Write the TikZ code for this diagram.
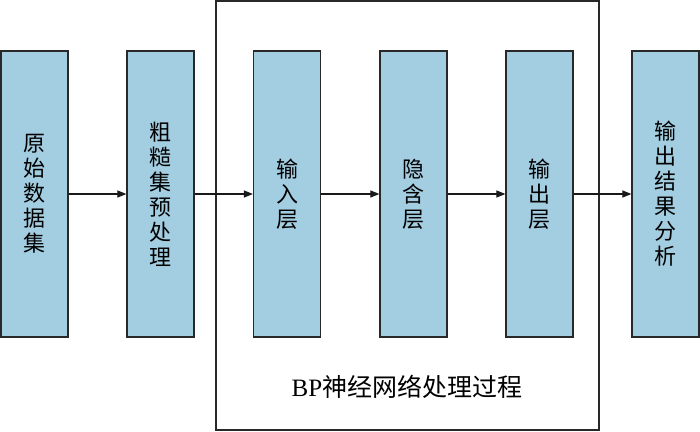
\documentclass[tikz,border=0pt]{standalone}
\usepackage{fontspec}
\newfontfamily\cjk{Noto Sans CJK SC}
\newfontfamily\lat{Liberation Serif}
\usetikzlibrary{arrows.meta}
\definecolor{boxblue}{RGB}{163,205,224}
\definecolor{edgegray}{RGB}{40,40,40}
\begin{document}
\begin{tikzpicture}[x=1pt,y=-1pt,
  layer/.style={draw=edgegray, line width=1.2pt, fill=boxblue, minimum width=67pt, minimum height=286pt, inner sep=0pt, align=center, font=\cjk\fontsize{22}{25}\selectfont},
  conn/.style={-{Triangle[length=9pt,width=7pt]}, line width=1.1pt, draw=black!90}
]
\useasboundingbox (0,0) rectangle (700,431);
\node[draw=edgegray, line width=1.4pt, minimum width=383pt, minimum height=429pt, inner sep=0pt] (frame) at (407.5,215.5) {};
\node[layer] (b1) at (34.5,194) {原\\始\\数\\据\\集};
\node[layer] (b2) at (160.5,194) {粗\\糙\\集\\预\\处\\理};
\node[layer] (b3) at (287,194) {输\\入\\层};
\node[layer] (b4) at (413.5,194) {隐\\含\\层};
\node[layer] (b5) at (539.5,194) {输\\出\\层};
\node[layer] (b6) at (665.5,194) {输\\出\\结\\果\\分\\析};
\node[font=\fontsize{25}{28}\selectfont, inner sep=0pt] (cap) at (407,387) {\lat BP\cjk 神经网络处理过程};
\draw[conn] (b1) -- (b2);
\draw[conn] (b2) -- (b3);
\draw[conn] (b3) -- (b4);
\draw[conn] (b4) -- (b5);
\draw[conn] (b5) -- (b6);
\end{tikzpicture}
\end{document}
